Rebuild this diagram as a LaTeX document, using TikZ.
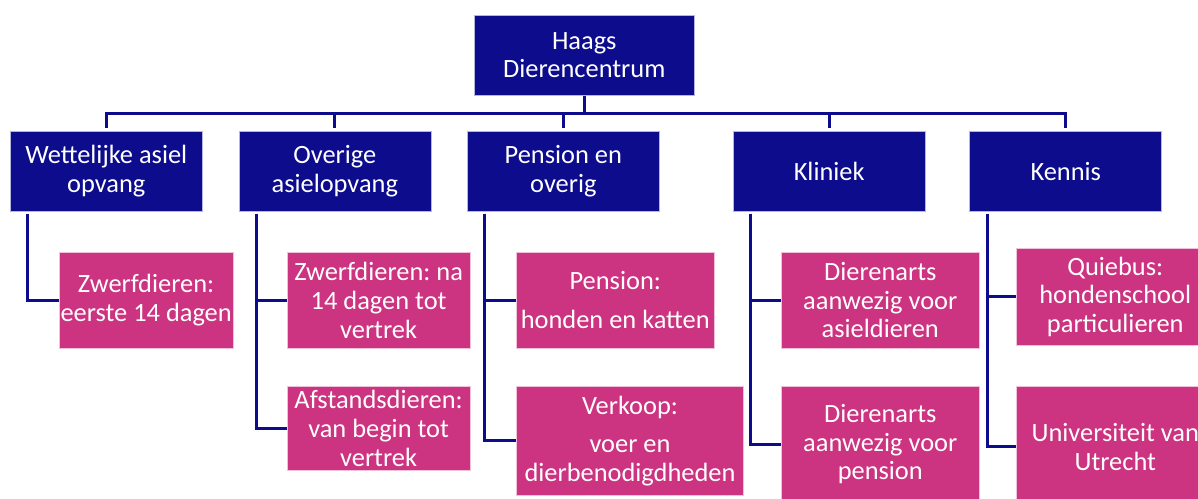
\documentclass[tikz,border=0pt]{standalone}
\usepackage{fontspec}
\setmainfont{Carlito}
\usetikzlibrary{positioning}
\definecolor{navy}{RGB}{12,12,140}
\definecolor{roze}{RGB}{204,51,128}

\begin{document}
\frenchspacing
\begin{tikzpicture}[x=0.75pt,y=-0.75pt,
  hoofd/.style={draw=white!70!navy,fill=navy,text=white,align=center,inner sep=0pt,minimum width=144pt,minimum height=60pt},
  taak/.style={draw=white!70!roze,fill=roze,text=white,align=center,inner sep=0pt,anchor=north west},
  lijn/.style={draw=navy,line width=2pt},
  font=\fontsize{19.8}{21.5}\selectfont
  ]

  \useasboundingbox (0,0) rectangle (1198,499);
  \clip (0,0) rectangle (1198,499);

  \node[hoofd,minimum width=165pt,anchor=north west] (hdc) at (474,15) {Haags\\Dierencentrum};

  \node[hoofd,anchor=north west] (wet) at (10,131) {Wettelijke asiel\\opvang};
  \node[hoofd,right=27pt of wet] (ove) {Overige\\asielopvang};
  \node[hoofd,right=27pt of ove] (pen) {Pension en\\overig};
  \node[hoofd,right=55pt of pen] (kli) {Kliniek};
  \node[hoofd,right=33pt of kli] (ken) {Kennis};

  \node[taak,minimum width=131pt,minimum height=72pt] (zw1) at (58.5,252) {Zwerfdieren:\\eerste 14 dagen};
  \node[taak,minimum width=137pt,minimum height=72pt] (zw2) at (287,252) {Zwerfdieren: na\\14 dagen tot\\vertrek};
  \node[taak,minimum width=137pt,minimum height=63pt] (afs) at (287,386) {Afstandsdieren:\\van begin tot\\vertrek};
  \node[taak,minimum width=148.5pt,minimum height=72pt] (pns) at (516,252) {Pension:\\[8pt]honden en katten};
  \node[taak,minimum width=170.6pt,minimum height=81.75pt] (vrk) at (516,386) {Verkoop:\\[7pt]voer en\\dierbenodigdheden};
  \node[taak,minimum width=148.5pt,minimum height=72pt] (da1) at (781,252) {Dierenarts\\aanwezig voor\\asieldieren};
  \node[taak,minimum width=148.5pt,minimum height=87pt] (da2) at (781,386) {Dierenarts\\aanwezig voor\\pension};
  \node[taak,minimum width=148.5pt,minimum height=72.75pt] (qui) at (1016,248) {Quiebus:\\hondenschool\\particulieren};
  \node[taak,minimum width=148.5pt,minimum height=90.75pt] (uni) at (1016,386) {Universiteit van\\Utrecht};

  % boomstructuur
  \coordinate (bus) at ([yshift=-13.5pt]hdc.south);
  \draw[lijn] (hdc.south) -- (bus);
  \foreach \n in {wet,ove,pen,kli,ken}
    \draw[lijn,shorten >=2pt] (bus) -| (\n.north);

  \draw[lijn,shorten <=1.5pt] ([xshift=13.3pt]wet.south west) |- (zw1.west);
  \draw[lijn,shorten <=1.5pt] ([xshift=13.3pt]ove.south west) |- (zw2.west);
  \draw[lijn,shorten <=1.5pt] ([xshift=13.3pt]ove.south west) |- (afs.west);
  \draw[lijn,shorten <=1.5pt] ([xshift=13.3pt]pen.south west) |- (pns.west);
  \draw[lijn,shorten <=1.5pt] ([xshift=13.3pt]pen.south west) |- (vrk.west);
  \draw[lijn,shorten <=1.5pt] ([xshift=13.3pt]kli.south west) |- (da1.west);
  \draw[lijn,shorten <=1.5pt] ([xshift=13.3pt]kli.south west) |- (da2.west);
  \draw[lijn,shorten <=1.5pt] ([xshift=13.3pt]ken.south west) |- (qui.west);
  \draw[lijn,shorten <=1.5pt] ([xshift=13.3pt]ken.south west) |- (uni.west);

\end{tikzpicture}
\end{document}
